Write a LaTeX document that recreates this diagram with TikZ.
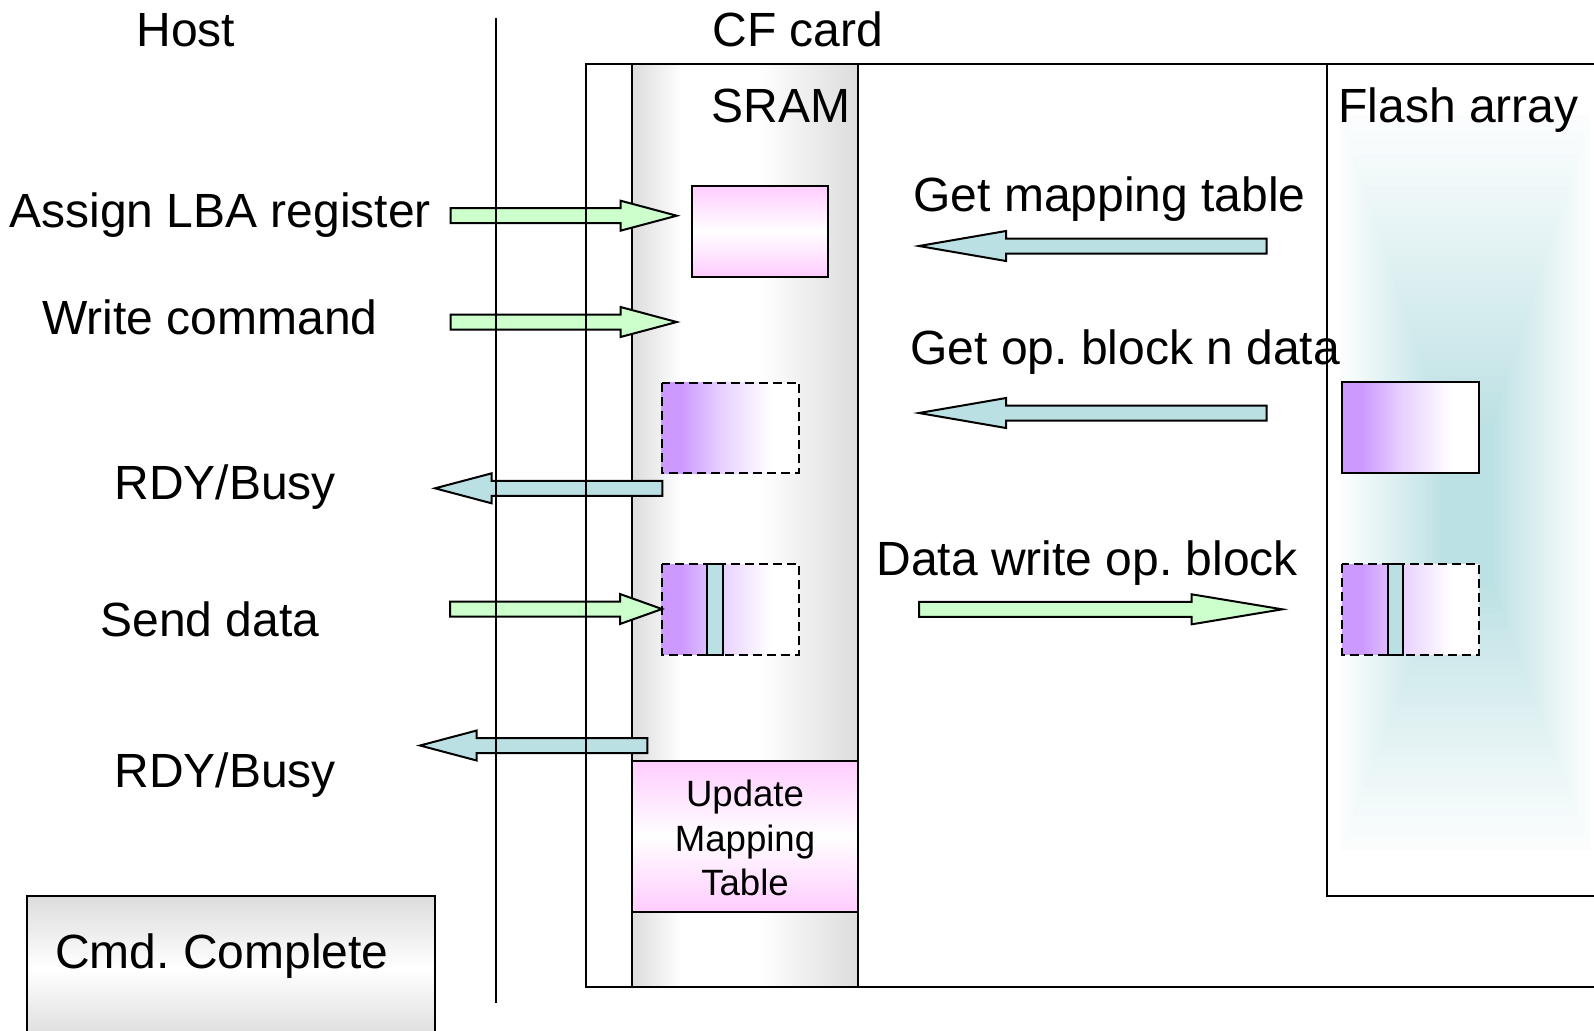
\documentclass[tikz,border=0pt]{standalone}
\usepackage{fontspec}
\setmainfont{Liberation Sans}
\definecolor{lgreen}{HTML}{CCFFCC}
\definecolor{lteal}{HTML}{BBE0E3}
\definecolor{lpink}{HTML}{FFCCFF}
\definecolor{vpurple}{HTML}{CC99FF}
\definecolor{lgray}{HTML}{DCDCDC}
\pgfdeclarehorizontalshading{sramshade}{100bp}{color(0bp)=(lgray); color(25bp)=(lgray); color(36bp)=(white); color(53bp)=(white); color(75bp)=(lgray); color(100bp)=(lgray)}
\pgfdeclarehorizontalshading{purpshade}{100bp}{color(0bp)=(vpurple); color(25bp)=(vpurple); color(32bp)=(vpurple); color(47bp)=(vpurple!45); color(65bp)=(white); color(100bp)=(white)}
\tikzset{
  lbl/.style={font=\fontsize{24}{28}\selectfont\frenchspacing, inner sep=0pt},
  smalllbl/.style={font=\fontsize{18.3}{22}\selectfont, inner sep=0pt},
  edge/.style={line width=1pt, draw=black},
  dashbox/.style={line width=0.9pt, draw=black, dash pattern=on 4.5pt off 2.5pt, shading=purpshade},
  solidbox/.style={line width=1pt, draw=black, shading=purpshade},
  pinkbox/.style={line width=1pt, draw=black, top color=lpink, bottom color=lpink, middle color=white},
  bar/.style={line width=1pt, draw=black, fill=lteal},
  greenarr/.style={line width=1pt, draw=black, fill=lgreen},
  bluearr/.style={line width=1pt, draw=black, fill=lteal},
}
\newcommand\blockarr[5]{%
  \draw[#1] (#2,#5-7.5) -- (#3,#5-7.5) -- (#3,#5-15) -- (#4,#5) -- (#3,#5+15) -- (#3,#5+7.5) -- (#2,#5+7.5) -- cycle;}
\begin{document}
\frenchspacing
\begin{tikzpicture}[x=0.5pt,y=-0.5pt]
\useasboundingbox (0,0) rectangle (1594,1030);
\clip (0,0) rectangle (1594,1030);
% flash glow
\foreach \k in {1,...,40}{
  \pgfmathsetmacro\s{(\k-1)/40}
  \pgfmathsetmacro\Ia{0.04*min(\k-1,1)+0.94*((\k-1)/40+0.00001)^1.1}
  \pgfmathsetmacro\Ib{0.04+0.94*(\k/40)^1.1}
  \pgfmathsetmacro\al{(\Ib-\Ia)/(1-\Ia)}
  \pgfmathsetmacro\xa{1340+\s*(1445-1340)}
  \pgfmathsetmacro\xb{1590+\s*(1490-1590)}
  \pgfmathsetmacro\ya{115+\s*(430-115)}
  \pgfmathsetmacro\yb{850+\s*(580-850)}
  \fill[lteal, fill opacity=\al] (\xa,\ya) rectangle (\xb,\yb);
}
% SRAM column
\shadedraw[edge, shading=sramshade] (631.7,64) rectangle (858.3,987.3);
% update mapping table
\shadedraw[pinkbox] (631.7,760.7) rectangle (858.3,911.7);
% pink LBA box
\shadedraw[pinkbox] (691.7,185.7) rectangle (828,276.7);
% SRAM dashed boxes
\shadedraw[dashbox] (661.7,382.7) rectangle (799,473.3);
\shadedraw[dashbox] (661.7,564) rectangle (799,654.7);
\draw[bar] (707.3,564) rectangle (722.7,654.7);
% flash boxes
\shadedraw[solidbox] (1342.3,382.3) rectangle (1479,473.3);
\shadedraw[dashbox] (1342.3,564) rectangle (1479,654.7);
\draw[bar] (1387.7,564) rectangle (1403.3,654.7);
% arrows
\blockarr{greenarr}{450.7}{620.5}{676.7}{215.7}
\blockarr{greenarr}{450.7}{620.5}{676.7}{322}
\blockarr{bluearr}{662.3}{491.7}{435}{488.3}
\blockarr{greenarr}{450}{620}{662}{609}
\blockarr{bluearr}{647.3}{476.7}{420}{745.5}
\blockarr{bluearr}{1266.7}{1006}{919}{246}
\blockarr{bluearr}{1266.7}{1006}{919}{413}
\blockarr{greenarr}{919}{1191.7}{1282.3}{609.3}
% frames
\draw[edge] (586,64) rectangle (1620,987.3);
\draw[edge] (1327.3,64) rectangle (1620,896);
\draw[edge] (495.7,18.3) -- (495.7,1002.7);
\shadedraw[line width=1pt, draw=black, top color=lgray, bottom color=lgray, middle color=white] (27,896) rectangle (435,1040);
% texts
\node[lbl, anchor=base] (host) at (186,46) {Host};
\node[lbl, anchor=base] (cf) at (798,46) {CF card};
\node[lbl, anchor=base east] (sram) at (851,122) {SRAM};
\node[lbl, anchor=base west] (flash) at (1338,122) {Flash array};
\node[lbl, anchor=base west] (assign) at (9,227) {Assign LBA register};
\node[lbl, anchor=base west] (write) at (42,334) {Write command};
\node[lbl, anchor=base west] (rdy1) at (114,499) {RDY/Busy};
\node[lbl, anchor=base west] (send) at (100,636) {Send data};
\node[lbl, anchor=base west] (rdy2) at (114,787) {RDY/Busy};
\node[lbl, anchor=base] (cmd) at (222,968) {Cmd. Complete};
\node[lbl, anchor=base west] (getmap) at (913,211) {Get mapping table};
\node[lbl, anchor=base west] (getop) at (910,364) {Get op. block n data};
\node[lbl, anchor=base west] (dwrite) at (876,575) {Data write op. block};
\node[smalllbl, anchor=base] (upd1) at (745,806) {Update};
\node[smalllbl, anchor=base] (upd2) at (745,851) {Mapping};
\node[smalllbl, anchor=base] (upd3) at (745,895) {Table};
\end{tikzpicture}
\end{document}
